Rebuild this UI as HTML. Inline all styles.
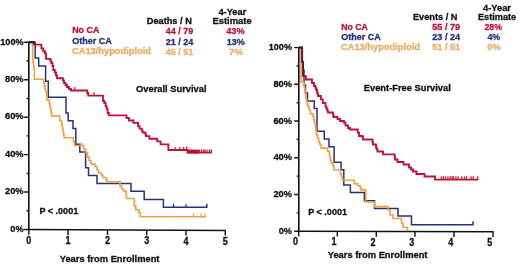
<!DOCTYPE html>
<html><head><meta charset="utf-8"><style>
html,body{margin:0;padding:0;background:#fff;}
body{width:520px;height:266px;overflow:hidden;}
svg{display:block;will-change:transform;filter:blur(0.3px);}
svg text{font-family:"Liberation Sans",sans-serif;}
</style></head><body>
<svg width="520" height="266" viewBox="0 0 520 266">
<rect width="520" height="266" fill="#fff"/>
<path d="M28.8,41.5 V230.1" stroke="#111" stroke-width="1.6" fill="none"/>
<path d="M28.00,229.50 L225.90,230.40" stroke="#111" stroke-width="1.5" fill="none"/>
<path d="M24.20,229.50 H28.80 M26.60,210.78 H28.80 M24.20,192.06 H28.80 M26.60,173.34 H28.80 M24.20,154.62 H28.80 M26.60,135.90 H28.80 M24.20,117.18 H28.80 M26.60,98.46 H28.80 M24.20,79.74 H28.80 M26.60,61.02 H28.80 M24.20,42.30 H28.80 M28.80,229.50 V234.70 M68.00,229.68 V234.88 M107.50,229.86 V235.06 M146.70,230.04 V235.24 M186.00,230.22 V235.42 M225.30,230.40 V235.60" stroke="#111" stroke-width="1.4" fill="none"/>
<text x="23.60" y="231.70" fill="#111" font-size="9.8" text-anchor="end" font-weight="bold" stroke="#111" stroke-width="0.3" textLength="13.30" lengthAdjust="spacingAndGlyphs">0%</text>
<text x="23.60" y="194.26" fill="#111" font-size="9.8" text-anchor="end" font-weight="bold" stroke="#111" stroke-width="0.3" textLength="18.60" lengthAdjust="spacingAndGlyphs">20%</text>
<text x="23.60" y="156.82" fill="#111" font-size="9.8" text-anchor="end" font-weight="bold" stroke="#111" stroke-width="0.3" textLength="18.60" lengthAdjust="spacingAndGlyphs">40%</text>
<text x="23.60" y="119.38" fill="#111" font-size="9.8" text-anchor="end" font-weight="bold" stroke="#111" stroke-width="0.3" textLength="18.60" lengthAdjust="spacingAndGlyphs">60%</text>
<text x="23.60" y="81.94" fill="#111" font-size="9.8" text-anchor="end" font-weight="bold" stroke="#111" stroke-width="0.3" textLength="18.60" lengthAdjust="spacingAndGlyphs">80%</text>
<text x="23.60" y="44.50" fill="#111" font-size="9.8" text-anchor="end" font-weight="bold" stroke="#111" stroke-width="0.3" textLength="23.30" lengthAdjust="spacingAndGlyphs">100%</text>
<text x="28.80" y="243.80" fill="#111" font-size="10.0" text-anchor="middle" font-weight="bold" stroke="#111" stroke-width="0.3" textLength="5.00" lengthAdjust="spacingAndGlyphs">0</text>
<text x="68.00" y="243.98" fill="#111" font-size="10.0" text-anchor="middle" font-weight="bold" stroke="#111" stroke-width="0.3" textLength="5.00" lengthAdjust="spacingAndGlyphs">1</text>
<text x="107.50" y="244.16" fill="#111" font-size="10.0" text-anchor="middle" font-weight="bold" stroke="#111" stroke-width="0.3" textLength="5.00" lengthAdjust="spacingAndGlyphs">2</text>
<text x="146.70" y="244.34" fill="#111" font-size="10.0" text-anchor="middle" font-weight="bold" stroke="#111" stroke-width="0.3" textLength="5.00" lengthAdjust="spacingAndGlyphs">3</text>
<text x="186.00" y="244.52" fill="#111" font-size="10.0" text-anchor="middle" font-weight="bold" stroke="#111" stroke-width="0.3" textLength="5.00" lengthAdjust="spacingAndGlyphs">4</text>
<text x="225.30" y="244.70" fill="#111" font-size="10.0" text-anchor="middle" font-weight="bold" stroke="#111" stroke-width="0.3" textLength="5.00" lengthAdjust="spacingAndGlyphs">5</text>
<path d="M298.8,46.800000000000004 V231.79999999999998" stroke="#111" stroke-width="1.6" fill="none"/>
<path d="M298.00,231.20 L493.60,231.80" stroke="#111" stroke-width="1.5" fill="none"/>
<path d="M294.20,231.20 H298.80 M296.60,212.84 H298.80 M294.20,194.48 H298.80 M296.60,176.12 H298.80 M294.20,157.76 H298.80 M296.60,139.40 H298.80 M294.20,121.04 H298.80 M296.60,102.68 H298.80 M294.20,84.32 H298.80 M296.60,65.96 H298.80 M294.20,47.60 H298.80 M298.80,231.20 V236.40 M337.30,231.32 V236.52 M376.30,231.44 V236.64 M415.00,231.56 V236.76 M454.00,231.68 V236.88 M493.00,231.80 V237.00" stroke="#111" stroke-width="1.4" fill="none"/>
<text x="292.00" y="233.80" fill="#111" font-size="9.8" text-anchor="end" font-weight="bold" stroke="#111" stroke-width="0.3" textLength="13.30" lengthAdjust="spacingAndGlyphs">0%</text>
<text x="292.00" y="197.08" fill="#111" font-size="9.8" text-anchor="end" font-weight="bold" stroke="#111" stroke-width="0.3" textLength="18.60" lengthAdjust="spacingAndGlyphs">20%</text>
<text x="292.00" y="160.36" fill="#111" font-size="9.8" text-anchor="end" font-weight="bold" stroke="#111" stroke-width="0.3" textLength="18.60" lengthAdjust="spacingAndGlyphs">40%</text>
<text x="292.00" y="123.64" fill="#111" font-size="9.8" text-anchor="end" font-weight="bold" stroke="#111" stroke-width="0.3" textLength="18.60" lengthAdjust="spacingAndGlyphs">60%</text>
<text x="292.00" y="86.92" fill="#111" font-size="9.8" text-anchor="end" font-weight="bold" stroke="#111" stroke-width="0.3" textLength="18.60" lengthAdjust="spacingAndGlyphs">80%</text>
<text x="292.00" y="50.20" fill="#111" font-size="9.8" text-anchor="end" font-weight="bold" stroke="#111" stroke-width="0.3" textLength="23.30" lengthAdjust="spacingAndGlyphs">100%</text>
<text x="295.50" y="245.30" fill="#111" font-size="10.0" text-anchor="middle" font-weight="bold" stroke="#111" stroke-width="0.3" textLength="5.00" lengthAdjust="spacingAndGlyphs">0</text>
<text x="334.00" y="245.42" fill="#111" font-size="10.0" text-anchor="middle" font-weight="bold" stroke="#111" stroke-width="0.3" textLength="5.00" lengthAdjust="spacingAndGlyphs">1</text>
<text x="373.00" y="245.54" fill="#111" font-size="10.0" text-anchor="middle" font-weight="bold" stroke="#111" stroke-width="0.3" textLength="5.00" lengthAdjust="spacingAndGlyphs">2</text>
<text x="411.70" y="245.66" fill="#111" font-size="10.0" text-anchor="middle" font-weight="bold" stroke="#111" stroke-width="0.3" textLength="5.00" lengthAdjust="spacingAndGlyphs">3</text>
<text x="450.70" y="245.78" fill="#111" font-size="10.0" text-anchor="middle" font-weight="bold" stroke="#111" stroke-width="0.3" textLength="5.00" lengthAdjust="spacingAndGlyphs">4</text>
<text x="489.70" y="245.90" fill="#111" font-size="10.0" text-anchor="middle" font-weight="bold" stroke="#111" stroke-width="0.3" textLength="5.00" lengthAdjust="spacingAndGlyphs">5</text>
<path d="M28.8,42.3 H35.2 V57.9 H38.7 V65.9 H45.6 V81.3 H48.3 V97.2 H66 V112.9 H68.2 V120.7 H73 V128.5 H75.8 V144.2 H79.8 V152.1 H85.6 V167.8 H88.5 V175.6 H97 V183.5 H131 V191.3 H144.2 V199.5 H163.4 V207.2 H206.8 V204" fill="none" stroke="#283278" stroke-width="1.5" stroke-linejoin="miter" stroke-linecap="butt" />
<path d="M173.60,207.20 V203.90 M186.00,207.20 V203.90" fill="none" stroke="#283278" stroke-width="1.2" stroke-linejoin="miter" stroke-linecap="butt" />
<path d="M28.80,42.30 L32.70,42.30 L32.70,60.00 L33.15,60.00 L33.15,63.00 L33.60,63.00 L33.60,66.00 L34.00,66.00 L34.00,69.00 L34.40,69.00 L34.40,72.00 L34.40,79.20 L43.00,79.20 L43.60,79.20 L43.60,82.60 L44.20,82.60 L44.20,86.00 L44.97,86.00 L44.97,89.00 L45.73,89.00 L45.73,92.00 L46.50,92.00 L46.50,95.00 L47.00,95.00 L47.00,100.00 L49.20,100.00 L49.20,103.00 L49.85,103.00 L49.85,106.50 L50.50,106.50 L50.50,110.00 L51.15,110.00 L51.15,112.95 L51.80,112.95 L51.80,115.90 L57.70,115.90 L59.70,115.90 L59.70,120.50 L61.60,120.50 L61.60,123.70 L62.05,123.70 L62.05,126.45 L62.50,126.45 L62.50,129.20 L63.03,129.20 L63.03,132.07 L63.57,132.07 L63.57,134.93 L64.10,134.93 L64.10,137.80 L72.30,137.80 L73.40,137.80 L73.40,141.65 L74.50,141.65 L74.50,145.50 L81.50,145.50 L83.60,145.50 L83.60,149.00 L85.50,149.00 L85.50,152.50 L87.50,152.50 L87.50,157.00 L89.00,157.00 L89.00,160.50 L91.00,160.50 L91.00,164.00 L95.00,164.00 L95.00,166.50 L97.00,166.50 L97.00,170.00 L98.50,170.00 L98.50,173.00 L101.50,173.00 L101.50,175.50 L103.00,175.50 L103.00,177.50 L106.00,177.50 L106.00,179.50 L107.00,179.50 L107.00,181.80 L118.30,181.80 L120.00,181.80 L120.00,186.00 L121.80,186.00 L121.80,189.00 L123.80,189.00 L123.80,191.00 L126.00,191.00 L126.00,193.00 L126.25,193.00 L126.25,195.75 L126.50,195.75 L126.50,198.50 L134.30,198.50 L134.30,205.90 L135.80,205.90 L135.80,209.80 L139.00,209.80 L139.00,212.70 L140.40,212.70 L140.40,216.80 L206.00,216.80" fill="none" stroke="#f2a041" stroke-width="1.6" stroke-linejoin="miter" stroke-linecap="butt" />
<path d="M81.50,145.50 V142.50 M193.60,216.80 V213.60 M201.10,216.80 V213.60 M205.10,216.80 V213.60" fill="none" stroke="#f2a041" stroke-width="1.2" stroke-linejoin="miter" stroke-linecap="butt" />
<path d="M28.8,42.3 H34 V44.6 H41.4 V48.5 H43.3 V51.2 H45 V53.4 H46 V58.8 H50.3 V60.5 H51.3 V63 H52.5 V66 H53.3 V70 H54.8 V72.5 H56 V75.5 H57 V78.2 H63 V80.5 H64 V83 H65.5 V85 H67 V87 H69 V89 H71 V90.5 H87.3 V93 H88.2 V95.6 H103 V101 H104.3 V103 H105.6 V106 H106.5 V108.6 H107.6 V113 H108.8 V115.4 H126.5 V118 H128.9 V120.5 H133.5 V122.8 H138.1 V126 H139.5 V128.6 H141.8 V130.5 H142.6 V132.5 H145.4 V134.5 H146 V136.1 H149.4 V138.7 H157.2 V141.4 H160.6 V144.3 H168.4 V150 H187.5 V152.6 H211.8" fill="none" stroke="#c21236" stroke-width="1.85" stroke-linejoin="miter" stroke-linecap="butt" />
<path d="M74.80,90.50 V87.10 M94.00,95.60 V92.20 M175.10,150.00 V147.00 M179.90,150.00 V147.00 M183.70,150.00 V147.00 M186.80,150.00 V146.60 M199.50,152.60 V149.40 M201.50,152.60 V149.40 M203.50,152.60 V149.40 M205.00,152.60 V149.40 M207.00,152.60 V149.40 M209.50,152.60 V149.40 M211.30,152.60 V149.40" fill="none" stroke="#c21236" stroke-width="1.2" stroke-linejoin="miter" stroke-linecap="butt" />
<path d="M298.8,47.6 H302.3 V62 H303.2 V70 H304 V85 H305.5 V93 H307.5 V100.9 H314.3 V108.4 H317 V131.2 H324.3 V139.1 H329 V146.8 H334.1 V162.2 H341 V169.8 H343.8 V185.1 H350.4 V192.6 H364.4 V200.7 H374.5 V208.4 H398 V216.1 H411.5 V224.7 H473 V221.2" fill="none" stroke="#283278" stroke-width="1.5" stroke-linejoin="miter" stroke-linecap="butt" />
<path d="M298.80,47.60 L301.00,47.60 L301.00,82.00 L303.80,82.00 L303.80,84.50 L304.40,84.50 L304.40,88.25 L305.00,88.25 L305.00,92.00 L305.50,92.00 L305.50,95.00 L306.00,95.00 L306.00,98.00 L306.50,98.00 L306.50,101.00 L307.15,101.00 L307.15,103.75 L307.80,103.75 L307.80,106.50 L309.15,106.50 L309.15,110.20 L310.50,110.20 L310.50,113.90 L313.10,113.90 L313.10,116.50 L313.75,116.50 L313.75,119.75 L314.40,119.75 L314.40,123.00 L315.50,123.00 L315.50,128.00 L316.00,128.00 L316.00,131.50 L316.50,131.50 L316.50,135.00 L317.60,135.00 L317.60,138.50 L318.70,138.50 L318.70,142.00 L319.80,142.00 L319.80,144.50 L321.10,144.50 L321.10,148.10 L326.30,148.10 L327.60,148.10 L327.60,151.10 L329.20,151.10 L329.20,152.60 L329.50,152.60 L329.50,155.20 L329.80,155.20 L329.80,157.80 L330.60,157.80 L330.60,160.45 L331.40,160.45 L331.40,163.10 L333.00,163.10 L333.00,165.70 L333.90,165.70 L333.90,169.80 L339.80,169.80 L340.50,169.80 L340.50,174.00 L341.50,174.00 L341.50,177.10 L342.50,177.10 L342.50,180.20 L352.30,180.20 L354.30,180.20 L354.30,183.80 L357.60,183.80 L357.60,185.80 L360.20,185.80 L360.20,187.70 L361.10,187.70 L361.10,189.90 L365.70,189.90 L365.70,191.90 L365.70,202.00 L374.50,202.00 L374.50,206.60 L387.00,206.60 L388.00,206.60 L388.00,210.00 L390.00,210.00 L390.00,215.00 L393.00,215.00 L393.00,218.50 L400.00,218.50 L401.50,218.50 L401.50,223.00 L403.00,223.00 L403.00,227.50 L406.50,227.50 L407.50,227.50 L407.50,230.90" fill="none" stroke="#f2a041" stroke-width="1.6" stroke-linejoin="miter" stroke-linecap="butt" />
<path d="M298.80,47.60 L302.00,47.60 L302.00,62.00 L303.00,62.00 L303.00,76.00 L305.80,76.00 L305.80,79.50 L310.50,79.50 L312.00,79.50 L312.00,83.00 L314.00,83.00 L314.00,86.00 L315.50,86.00 L315.50,88.00 L316.25,88.00 L316.25,90.00 L317.00,90.00 L317.00,92.00 L317.50,92.00 L317.50,94.00 L318.00,94.00 L318.00,96.00 L320.90,96.00 L320.90,99.30 L322.80,99.30 L322.80,103.00 L325.50,103.00 L325.50,106.50 L326.45,106.50 L326.45,108.75 L327.40,108.75 L327.40,111.00 L328.00,111.00 L328.00,112.50 L332.50,112.50 L333.00,112.50 L333.00,114.75 L333.50,114.75 L333.50,117.00 L337.50,117.00 L337.50,119.00 L340.00,119.00 L340.00,121.00 L344.00,121.00 L344.00,122.50 L345.50,122.50 L345.50,125.50 L348.00,125.50 L348.00,128.00 L350.00,128.00 L350.00,129.50 L356.50,129.50 L357.75,129.50 L357.75,132.75 L359.00,132.75 L359.00,136.00 L362.00,136.00 L362.00,136.50 L363.00,136.50 L363.00,139.50 L372.00,139.50 L372.50,139.50 L372.50,142.00 L373.00,142.00 L373.00,144.50 L376.00,144.50 L376.00,147.50 L376.75,147.50 L376.75,149.50 L377.50,149.50 L377.50,151.50 L382.50,151.50 L383.00,151.50 L383.00,154.30 L394.30,154.30 L394.65,154.30 L394.65,156.90 L395.00,156.90 L395.00,159.50 L397.50,159.50 L397.50,162.00 L402.50,162.00 L403.50,162.00 L403.50,164.50 L407.50,164.50 L409.00,164.50 L409.00,167.50 L411.00,167.50 L411.00,169.50 L413.00,169.50 L413.00,171.50 L416.50,171.50 L416.50,174.00 L424.50,174.00 L424.50,176.50 L435.00,176.50 L435.00,179.60 L478.30,179.60" fill="none" stroke="#c21236" stroke-width="1.85" stroke-linejoin="miter" stroke-linecap="butt" />
<path d="M441.30,179.60 V176.20 M443.50,179.60 V176.20 M445.70,179.60 V176.20 M448.00,179.60 V176.20 M450.20,179.60 V176.20 M452.00,179.60 V176.20 M453.50,179.60 V176.20 M455.90,179.60 V176.20 M458.10,179.60 V176.20 M461.70,179.60 V176.20 M464.30,179.60 V176.20 M466.50,179.60 V176.20 M471.00,179.60 V176.20 M473.20,179.60 V176.20 M477.80,179.60 V176.20" fill="none" stroke="#c21236" stroke-width="1.2" stroke-linejoin="miter" stroke-linecap="butt" />
<rect x="187.2" y="149.6" width="11.6" height="3.9" fill="#c0102c"/>
<path d="M28.8,42.3 H34.6" stroke="#1a1a1a" stroke-width="1.9" fill="none"/>
<path d="M298.8,47.6 H302.6" stroke="#2a1a22" stroke-width="1.8" fill="none"/>
<path d="M302.2,47.6 V62 M303.1,61 V76" stroke="#5a1a3a" stroke-width="1.7" fill="none"/>
<text x="72.20" y="33.20" fill="#c21236" font-size="9.6" text-anchor="start" font-weight="bold" stroke="#c21236" stroke-width="0.3" textLength="27.20" lengthAdjust="spacingAndGlyphs">No CA</text>
<text x="72.20" y="44.30" fill="#283278" font-size="9.6" text-anchor="start" font-weight="bold" stroke="#283278" stroke-width="0.3" textLength="39.60" lengthAdjust="spacingAndGlyphs">Other CA</text>
<text x="72.00" y="54.40" fill="#ebad66" font-size="9.6" text-anchor="start" font-weight="bold" stroke="#ebad66" stroke-width="0.3" textLength="79.00" lengthAdjust="spacingAndGlyphs">CA13/hypodiploid</text>
<text x="146.80" y="23.90" fill="#111" font-size="9.7" text-anchor="start" font-weight="bold" stroke="#111" stroke-width="0.3" textLength="45.00" lengthAdjust="spacingAndGlyphs">Deaths / N</text>
<text x="218.40" y="14.70" fill="#111" font-size="9.7" text-anchor="start" font-weight="bold" stroke="#111" stroke-width="0.3" textLength="27.90" lengthAdjust="spacingAndGlyphs">4-Year</text>
<text x="212.40" y="23.90" fill="#111" font-size="9.7" text-anchor="start" font-weight="bold" stroke="#111" stroke-width="0.3" textLength="39.30" lengthAdjust="spacingAndGlyphs">Estimate</text>
<text x="193.40" y="33.90" fill="#c21236" font-size="9.6" text-anchor="end" font-weight="bold" stroke="#c21236" stroke-width="0.3" textLength="27.70" lengthAdjust="spacingAndGlyphs">44 / 79</text>
<text x="193.40" y="44.90" fill="#283278" font-size="9.6" text-anchor="end" font-weight="bold" stroke="#283278" stroke-width="0.3" textLength="27.70" lengthAdjust="spacingAndGlyphs">21 / 24</text>
<text x="193.40" y="54.70" fill="#ebad66" font-size="9.6" text-anchor="end" font-weight="bold" stroke="#ebad66" stroke-width="0.3" textLength="27.70" lengthAdjust="spacingAndGlyphs">45 / 51</text>
<text x="235.50" y="33.90" fill="#c21236" font-size="9.6" text-anchor="middle" font-weight="bold" stroke="#c21236" stroke-width="0.3" textLength="18.60" lengthAdjust="spacingAndGlyphs">43%</text>
<text x="235.70" y="44.90" fill="#283278" font-size="9.6" text-anchor="middle" font-weight="bold" stroke="#283278" stroke-width="0.3" textLength="18.00" lengthAdjust="spacingAndGlyphs">13%</text>
<text x="236.00" y="54.70" fill="#ebad66" font-size="9.6" text-anchor="middle" font-weight="bold" stroke="#ebad66" stroke-width="0.3" textLength="13.80" lengthAdjust="spacingAndGlyphs">7%</text>
<text x="136.00" y="91.60" fill="#111" font-size="9.8" text-anchor="start" font-weight="bold" stroke="#111" stroke-width="0.3" textLength="70.60" lengthAdjust="spacingAndGlyphs">Overall Survival</text>
<text x="39.40" y="213.50" fill="#111" font-size="9.6" text-anchor="start" font-weight="bold" stroke="#111" stroke-width="0.3" textLength="38.80" lengthAdjust="spacingAndGlyphs">P &lt; .0001</text>
<text x="59.70" y="262.40" fill="#111" font-size="9.6" text-anchor="start" font-weight="bold" stroke="#111" stroke-width="0.3" textLength="99.80" lengthAdjust="spacingAndGlyphs">Years from Enrollment</text>
<text x="341.30" y="30.10" fill="#c21236" font-size="9.6" text-anchor="start" font-weight="bold" stroke="#c21236" stroke-width="0.3" textLength="26.60" lengthAdjust="spacingAndGlyphs">No CA</text>
<text x="341.30" y="40.20" fill="#283278" font-size="9.6" text-anchor="start" font-weight="bold" stroke="#283278" stroke-width="0.3" textLength="39.40" lengthAdjust="spacingAndGlyphs">Other CA</text>
<text x="341.00" y="50.00" fill="#ebad66" font-size="9.6" text-anchor="start" font-weight="bold" stroke="#ebad66" stroke-width="0.3" textLength="79.00" lengthAdjust="spacingAndGlyphs">CA13/hypodiploid</text>
<text x="413.00" y="20.00" fill="#111" font-size="9.7" text-anchor="start" font-weight="bold" stroke="#111" stroke-width="0.3" textLength="44.40" lengthAdjust="spacingAndGlyphs">Events / N</text>
<text x="483.00" y="10.50" fill="#111" font-size="9.7" text-anchor="start" font-weight="bold" stroke="#111" stroke-width="0.3" textLength="28.00" lengthAdjust="spacingAndGlyphs">4-Year</text>
<text x="477.90" y="20.30" fill="#111" font-size="9.7" text-anchor="start" font-weight="bold" stroke="#111" stroke-width="0.3" textLength="38.30" lengthAdjust="spacingAndGlyphs">Estimate</text>
<text x="460.20" y="29.80" fill="#c21236" font-size="9.6" text-anchor="end" font-weight="bold" stroke="#c21236" stroke-width="0.3" textLength="28.00" lengthAdjust="spacingAndGlyphs">55 / 79</text>
<text x="460.20" y="40.30" fill="#283278" font-size="9.6" text-anchor="end" font-weight="bold" stroke="#283278" stroke-width="0.3" textLength="28.00" lengthAdjust="spacingAndGlyphs">23 / 24</text>
<text x="460.20" y="50.00" fill="#ebad66" font-size="9.6" text-anchor="end" font-weight="bold" stroke="#ebad66" stroke-width="0.3" textLength="28.00" lengthAdjust="spacingAndGlyphs">51 / 51</text>
<text x="493.20" y="29.80" fill="#c21236" font-size="9.6" text-anchor="middle" font-weight="bold" stroke="#c21236" stroke-width="0.3" textLength="17.60" lengthAdjust="spacingAndGlyphs">28%</text>
<text x="493.80" y="40.30" fill="#283278" font-size="9.6" text-anchor="middle" font-weight="bold" stroke="#283278" stroke-width="0.3" textLength="12.80" lengthAdjust="spacingAndGlyphs">4%</text>
<text x="494.00" y="50.00" fill="#ebad66" font-size="9.6" text-anchor="middle" font-weight="bold" stroke="#ebad66" stroke-width="0.3" textLength="13.30" lengthAdjust="spacingAndGlyphs">0%</text>
<text x="363.80" y="90.50" fill="#111" font-size="9.8" text-anchor="start" font-weight="bold" stroke="#111" stroke-width="0.3" textLength="87.00" lengthAdjust="spacingAndGlyphs">Event-Free Survival</text>
<text x="308.20" y="215.30" fill="#111" font-size="9.6" text-anchor="start" font-weight="bold" stroke="#111" stroke-width="0.3" textLength="38.80" lengthAdjust="spacingAndGlyphs">P &lt; .0001</text>
<text x="327.70" y="257.70" fill="#111" font-size="9.6" text-anchor="start" font-weight="bold" stroke="#111" stroke-width="0.3" textLength="99.80" lengthAdjust="spacingAndGlyphs">Years from Enrollment</text>
</svg>
</body></html>
